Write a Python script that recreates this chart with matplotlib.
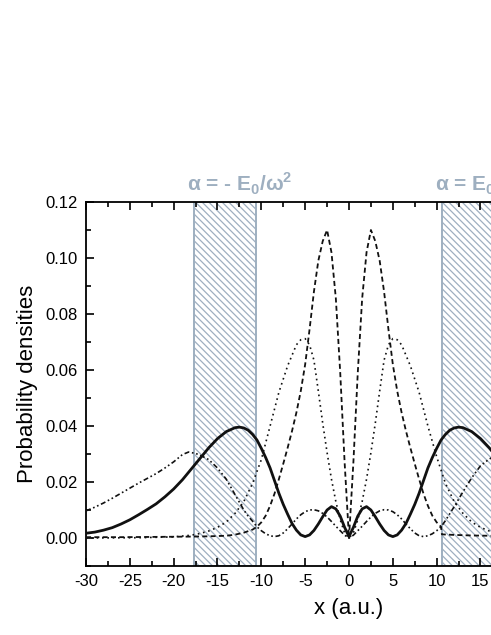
import matplotlib

matplotlib.use("Agg")
import matplotlib.pyplot as plt  # noqa: E402
from matplotlib.ticker import MultipleLocator, FormatStrFormatter  # noqa: E402

plt.rcParams["font.family"] = ["Liberation Sans", "DejaVu Sans"]
plt.rcParams["mathtext.fontset"] = "custom"
plt.rcParams["mathtext.rm"] = "Liberation Sans:bold"
plt.rcParams["mathtext.bf"] = "Liberation Sans:bold"
plt.rcParams["axes.unicode_minus"] = False
plt.rcParams["hatch.linewidth"] = 0.9

# ---- data ----------------------------------------------------------------
# solid thick curve
x_solid = [-30, -29, -28, -27, -26, -25, -24, -23, -22, -21, -20, -19, -18,
           -17, -16, -15, -14, -13, -12.5, -12, -11.5, -11, -10.5, -10, -9.5,
           -9, -8.5, -8, -7.5, -7, -6.5, -6, -5.5, -5, -4.5, -4, -3.5, -3,
           -2.5, -2, -1.5, -1, -0.5, 0, 0.5, 1, 1.5, 2, 2.5, 3, 3.5, 4, 4.5,
           5, 5.5, 6, 6.5, 7, 7.5, 8, 8.5, 9, 9.5, 10, 10.5, 11, 11.5, 12,
           12.5, 13, 14, 15, 16, 17]
y_solid = [0.0017, 0.0021, 0.0028, 0.0037, 0.0050, 0.0065, 0.0083, 0.0102,
           0.0122, 0.0147, 0.0175, 0.0208, 0.0246, 0.0284, 0.0322, 0.0355,
           0.0380, 0.0394, 0.0396, 0.0393, 0.0385, 0.0370, 0.0350, 0.0320,
           0.0287, 0.0250, 0.0205, 0.0160, 0.0120, 0.0085, 0.0052, 0.0028,
           0.0011, 0.0005, 0.0011, 0.0027, 0.0050, 0.0076, 0.0100, 0.0112,
           0.0104, 0.0078, 0.0038, 0.0005, 0.0038, 0.0078, 0.0104, 0.0112,
           0.0100, 0.0076, 0.0050, 0.0027, 0.0011, 0.0005, 0.0011, 0.0028,
           0.0052, 0.0085, 0.0120, 0.0160, 0.0205, 0.0250, 0.0287, 0.0320,
           0.0350, 0.0370, 0.0385, 0.0393, 0.0396, 0.0394, 0.0380, 0.0355,
           0.0322, 0.0283]

# dashed curve
x_dash = [-30, -26, -22, -18, -16, -14, -13, -12, -11, -10.5, -10, -9.5, -9,
          -8.5, -8, -7.5, -7, -6.5, -6, -5.5, -5, -4.5, -4, -3.5, -3, -2.5,
          -2, -1.5, -1, -0.5, 0, 0.5, 1, 1.5, 2, 2.5, 3, 3.5, 4, 4.5, 5, 5.5,
          6, 6.5, 7, 7.5, 8, 8.5, 9, 9.5, 10, 10.5, 10.6, 12, 14, 16, 17]
y_dash = [0.0003, 0.0003, 0.0004, 0.0005, 0.0006, 0.0008, 0.0012, 0.0019,
          0.0030, 0.0040, 0.0056, 0.0080, 0.0115, 0.0158, 0.0210, 0.0265,
          0.0322, 0.0382, 0.0448, 0.0525, 0.0620, 0.0745, 0.0880, 0.0990,
          0.1060, 0.1100, 0.1020, 0.0855, 0.0590, 0.0270, 0.0000, 0.0270,
          0.0590, 0.0855, 0.1020, 0.1100, 0.1060, 0.0990, 0.0880, 0.0745,
          0.0620, 0.0525, 0.0448, 0.0382, 0.0322, 0.0265, 0.0210, 0.0158,
          0.0115, 0.0080, 0.0056, 0.0040, 0.0013, 0.0011, 0.0009, 0.0008,
          0.0007]

# dotted curve
x_dot = [-30, -24, -20, -18, -17, -16, -15, -14, -13, -12, -11, -10, -9, -8,
         -7, -6, -5.5, -5, -4.5, -4, -3.5, -3, -2.5, -2, -1.5, -1, -0.5, 0,
         0.5, 1, 1.5, 2, 2.5, 3, 3.5, 4, 4.5, 5, 5.5, 6, 7, 8, 9, 10, 11,
         12, 13, 14, 15, 16, 17]
y_dot = [0.0000, 0.0001, 0.0004, 0.0010, 0.0016, 0.0025, 0.0038, 0.0057,
         0.0088, 0.0130, 0.0195, 0.0280, 0.0400, 0.0520, 0.0615, 0.0690,
         0.0708, 0.0712, 0.0690, 0.0635, 0.0525, 0.0410, 0.0305, 0.0210,
         0.0130, 0.0065, 0.0018, 0.0000, 0.0018, 0.0065, 0.0130, 0.0210,
         0.0305, 0.0410, 0.0525, 0.0635, 0.0690, 0.0712, 0.0708, 0.0690,
         0.0615, 0.0520, 0.0400, 0.0290, 0.0195, 0.0130, 0.0088, 0.0057,
         0.0038, 0.0025, 0.0016]

# dash-dot-dot curve
x_dd = [-30, -29, -28, -27, -26, -25, -24, -23, -22, -21, -20, -19, -18.3,
        -17.5, -17, -16, -15, -14, -13, -12, -11.5, -11, -10.5, -10, -9.5,
        -9, -8.5, -8, -7.5, -7, -6.5, -6, -5.5, -5, -4.5, -4, -3.5, -3, -2.5,
        -2, -1.5, -1, -0.5, 0, 0.5, 1, 1.5, 2, 2.5, 3, 3.5, 4, 4.5, 5, 5.5,
        6, 6.5, 7, 7.5, 8, 8.5, 9, 9.5, 10, 10.5, 11, 12, 13, 14, 15, 16, 17]
y_dd = [0.0097, 0.0110, 0.0125, 0.0142, 0.0160, 0.0178, 0.0196, 0.0213,
        0.0230, 0.0250, 0.0272, 0.0298, 0.0307, 0.0302, 0.0296, 0.0280,
        0.0250, 0.0210, 0.0155, 0.0100, 0.0078, 0.0060, 0.0040, 0.0026,
        0.0015, 0.0008, 0.0005, 0.0008, 0.0018, 0.0033, 0.0050, 0.0068,
        0.0083, 0.0094, 0.0100, 0.0101, 0.0097, 0.0088, 0.0075, 0.0059,
        0.0042, 0.0026, 0.0010, 0.0000, 0.0010, 0.0026, 0.0042, 0.0059,
        0.0075, 0.0088, 0.0097, 0.0101, 0.0100, 0.0094, 0.0083, 0.0068,
        0.0050, 0.0033, 0.0018, 0.0008, 0.0005, 0.0008, 0.0015, 0.0026,
        0.0040, 0.0062, 0.0112, 0.0165, 0.0215, 0.0258, 0.0282, 0.0298]

# hatched bands (alpha = -E0/w^2 and +E0/w^2)
bands = [(-17.7, -10.6), (10.6, 17.7)]
band_labels = ["α = - E$_0$/ω$^2$", "α = E$_0$/ω$^2$"]

GREY = "#9eafc0"

# ---- figure ---------------------------------------------------------------
fig = plt.figure(figsize=(4.91, 6.35), dpi=100)
# the frame runs past the right edge of the picture, as in the original
ax = fig.add_axes([86 / 491, 1 - 566 / 635, 526 / 491, 364 / 635])

for x0, x1 in bands:
    ax.axvspan(x0, x1, facecolor="white", edgecolor=GREY, hatch="\\" * 5,
               lw=1.4, zorder=1)

ax.plot(x_solid, y_solid, color="#111111", lw=2.0, zorder=3)
ax.plot(x_dash, y_dash, color="#111111", lw=1.3, ls=(0, (2.8, 1.8)), zorder=3)
ax.plot(x_dot, y_dot, color="#111111", lw=1.2, ls=(0, (1, 2.2)), zorder=3)
ax.plot(x_dd, y_dd, color="#111111", lw=1.2,
        ls=(0, (3, 1.6, 1, 1.6, 1, 1.6)), zorder=3)

for (x0, _), lab in zip(bands, band_labels):
    ax.text(x0 - 0.8, 0.1265, lab, color=GREY, fontsize=15,
            fontweight="bold", ha="left", va="center", clip_on=False)

ax.set_xlim(-30, 30)
ax.set_ylim(-0.01, 0.12)
ax.xaxis.set_major_locator(MultipleLocator(5))
ax.xaxis.set_minor_locator(MultipleLocator(2.5))
ax.yaxis.set_major_locator(MultipleLocator(0.02))
ax.yaxis.set_minor_locator(MultipleLocator(0.01))
ax.yaxis.set_major_formatter(FormatStrFormatter("%.2f"))
ax.set_yticks([0, 0.02, 0.04, 0.06, 0.08, 0.10, 0.12])

ax.tick_params(which="both", direction="in", top=True, right=False,
               width=1.2, labelsize=12, pad=6)
ax.tick_params(which="major", length=6)
ax.tick_params(which="minor", length=3.5)
for side in ["left", "bottom", "top"]:
    ax.spines[side].set_linewidth(1.3)
ax.spines["right"].set_visible(False)

ax.set_xlabel("x (a.u.)", fontsize=16, labelpad=6)
ax.set_ylabel("Probability densities", fontsize=16, labelpad=5)

fig.savefig("out.png", dpi=100)
